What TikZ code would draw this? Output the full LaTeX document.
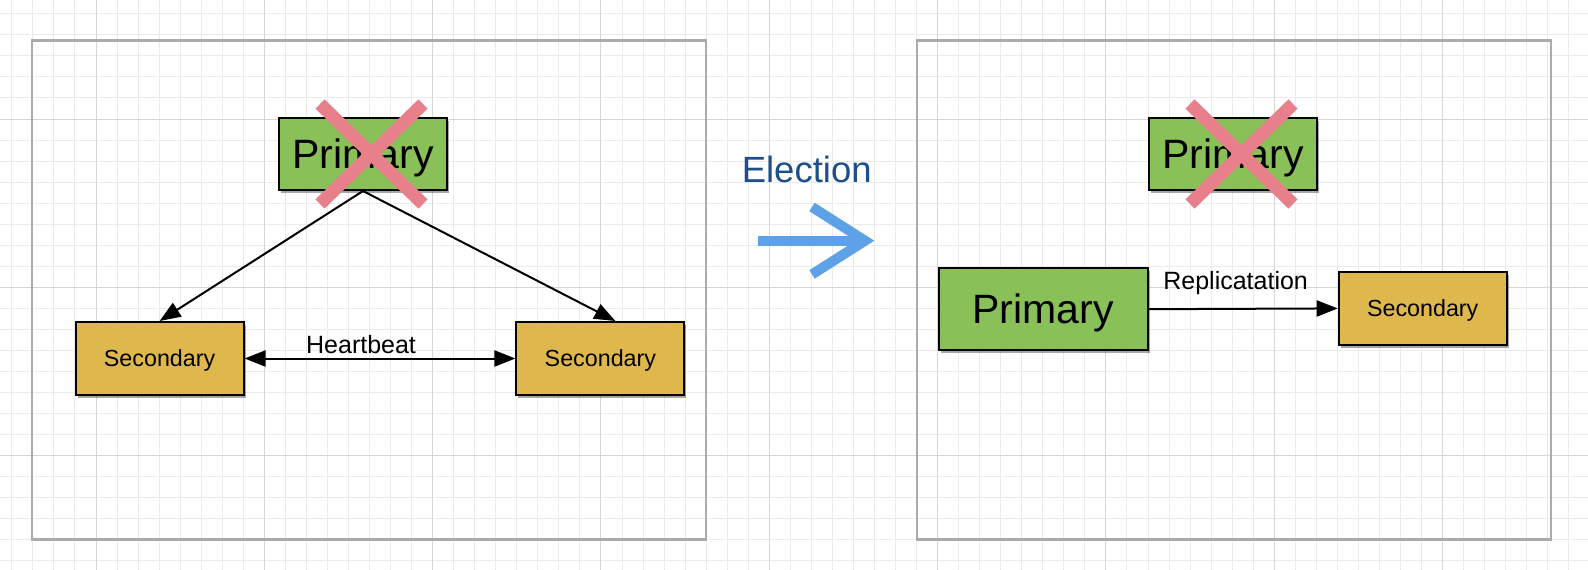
\documentclass[tikz,border=0pt]{standalone}
\usepackage{fontspec}
\setmainfont{Liberation Sans}
\usetikzlibrary{arrows.meta,shadows,calc}
\definecolor{gridminor}{HTML}{EBEBEB}
\definecolor{gridmajor}{HTML}{D6D6D6}
\definecolor{framegray}{HTML}{ABABAB}
\definecolor{primgreen}{HTML}{89C058}
\definecolor{secgold}{HTML}{DFB84D}
\definecolor{crosspink}{HTML}{E8808B}
\definecolor{elecblue}{HTML}{1F4E8C}
\definecolor{arrowblue}{HTML}{5DA1E6}
\tikzset{
  box/.style={draw=black, line width=2pt, inner sep=0pt, text depth=0pt,
    drop shadow={shadow xshift=2pt, shadow yshift=-3pt, fill=black, opacity=0.35}},
  primbox/.style={box, fill=primgreen, font=\fontsize{41}{41}\selectfont, text height=28pt},
  secbox/.style={box, fill=secgold, minimum width=168pt, minimum height=73pt, font=\fontsize{23.3}{24}\selectfont, text height=16.7pt},
  conn/.style={line width=2pt, draw=black},
  mytip/.tip={Triangle[length=21pt,width=16pt]},
  lbl/.style={font=\fontsize{25}{25}\selectfont, anchor=base, inner sep=0pt},
  cross/.style={draw=crosspink, line width=13pt, line cap=butt},
  panel/.style={draw=framegray, line width=2.5pt},
}
\begin{document}
\begin{tikzpicture}[x=1pt,y=-1pt]
\fill[white] (0,0) rectangle (1588,570);
\useasboundingbox (0,0) rectangle (1588,570);
% grid
\foreach \i in {-4,...,71} {
  \draw[gridminor, line width=1pt] ({96+\i*21.04},0) -- ({96+\i*21.04},570);
}
\foreach \j in {-5,...,22} {
  \draw[gridminor, line width=1pt] (0,{119+\j*21.04}) -- (1588,{119+\j*21.04});
}
\foreach \i in {-1,...,9} {
  \draw[gridmajor, line width=1pt] ({96+\i*168.32},0) -- ({96+\i*168.32},570);
}
\foreach \j in {-1,...,3} {
  \draw[gridmajor, line width=1pt] (0,{119+\j*168.32}) -- (1588,{119+\j*168.32});
}
% panels
\node[panel, minimum width=674pt, minimum height=499pt, inner sep=0pt] (leftpanel) at (369,290) {};
\node[panel, minimum width=634pt, minimum height=499pt, inner sep=0pt] (rightpanel) at (1234,290) {};

% left panel
\node[primbox, minimum width=168pt, minimum height=72pt] (p1) at (363,154) {Primary};
\node[secbox] (s1) at (159.6,358.5) {Secondary};
\node[secbox] (s2) at (600.4,358.5) {Secondary};
\draw[conn, -{mytip}] (p1.south) -- (s1.north);
\draw[conn, -{mytip}] (p1.south) -- ([xshift=15pt]s2.north);
\draw[conn, {mytip}-{mytip}] (s1.east) -- node[lbl, pos=0.43, yshift=5pt] {Heartbeat} (s2.west);
\coordinate (x1) at ($(p1.center)+(8.5,0)$);
\draw[cross] ($(x1)+(-51.5,-50)$) -- ($(x1)+(51.5,50)$);
\draw[cross] ($(x1)+(51.5,-50)$) -- ($(x1)+(-51.5,50)$);

% election
\node[lbl, font=\fontsize{36.5}{36.5}\selectfont, text=elecblue] (elec) at (806.7,182.7) {Election};
\coordinate (eshaft) at (757.7,240.7);
\coordinate (etip) at (865,240.7);
\coordinate (eup) at (812,207);
\coordinate (edown) at (812,274.4);
\draw[arrowblue, line width=10pt, line cap=butt] (eshaft) -- ([xshift=-4pt]etip);
\draw[arrowblue, line width=10pt, line cap=butt, line join=miter] (eup) -- (etip) -- (edown);

% right panel
\node[primbox, minimum width=168pt, minimum height=72pt] (p2) at (1233,154) {Primary};
\coordinate (x2) at ($(p2.center)+(8.5,0)$);
\draw[cross] ($(x2)+(-51.5,-50)$) -- ($(x2)+(51.5,50)$);
\draw[cross] ($(x2)+(51.5,-50)$) -- ($(x2)+(-51.5,50)$);
\node[primbox, minimum width=209pt, minimum height=82pt] (p3) at (1043.2,309.2) {Primary};
\node[secbox] (s3) at (1422.7,308.4) {Secondary};
\draw[conn, -{mytip}] (p3.east) -- node[lbl, pos=0.46, yshift=19pt] {Replicatation} (s3.west);
\end{tikzpicture}
\end{document}
